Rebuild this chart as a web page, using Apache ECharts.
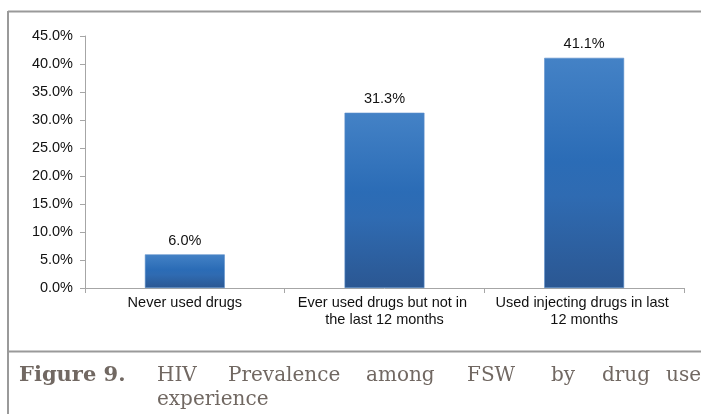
<!DOCTYPE html>
<html>
<head>
<meta charset="utf-8">
<script src="https://cdn.jsdelivr.net/npm/echarts@6/dist/echarts.min.js"></script>
<style>
  html, body { margin: 0; padding: 0; background: #ffffff; }
  #chart { width: 701px; height: 414px; }
</style>
</head>
<body>
<div id="chart"></div>
<script>
// Drug use experience groups and HIV prevalence (%) among FSW
const categories = [
  'Never used drugs',
  'Ever used drugs but not in the last 12 months',
  'Used injecting drugs in last 12 months'
];
const prevalence = [6.0, 31.3, 41.1];

// Value axis range
const yMin = 0;
const yMax = 45;
const yStep = 5;

// Caption under the chart (justified words of the first line, then the rest)
const captionLabel = 'Figure 9.';
const captionLine1 = ['HIV', 'Prevalence', 'among', 'FSW', 'by', 'drug', 'use'];
const captionLine2 = 'experience';

const chart = echarts.init(document.getElementById('chart'), null, { renderer: 'canvas' });

const axisGray = '#a6a6a6';
const frameGray = '#9a9a9a';
const captionColor = '#716862';
const serif = '"DejaVu Serif", "Liberation Serif", serif';
const sans = '"Liberation Sans", Arial, sans-serif';

const barGradient = new echarts.graphic.LinearGradient(0, 0, 0, 1, [
  { offset: 0, color: '#4482c6' },
  { offset: 0.45, color: '#2b6cb6' },
  { offset: 0.6, color: '#2f6bb2' },
  { offset: 1, color: '#2b5792' }
]);

// x positions of the justified caption words
const wordX = [157, 228, 366, 467, 551, 602, 666];

const graphics = [
  // frame around the figure
  { type: 'line', shape: { x1: 8, y1: 11.5, x2: 701, y2: 11.5 }, style: { stroke: frameGray, lineWidth: 2 }, silent: true },
  { type: 'line', shape: { x1: 8, y1: 11, x2: 8, y2: 414 }, style: { stroke: frameGray, lineWidth: 2 }, silent: true },
  { type: 'line', shape: { x1: 8, y1: 351.5, x2: 701, y2: 351.5 }, style: { stroke: frameGray, lineWidth: 2 }, silent: true },
  {
    type: 'text', x: 19, y: 375.5,
    style: { text: captionLabel, font: 'bold 21px ' + serif, fill: captionColor, verticalAlign: 'middle' }
  },
  {
    type: 'text', x: 157, y: 399.5,
    style: { text: captionLine2, font: '20px ' + serif, fill: captionColor, verticalAlign: 'middle' }
  }
];
captionLine1.forEach((w, i) => {
  graphics.push({
    type: 'text', x: wordX[i], y: 375.5,
    style: { text: w, font: '20px ' + serif, fill: captionColor, verticalAlign: 'middle' }
  });
});

chart.setOption({
  backgroundColor: '#ffffff',
  animation: false,
  grid: { left: 85, right: 17, top: 36, bottom: 126, containLabel: false },
  xAxis: {
    type: 'category',
    data: categories,
    axisLine: { show: true, lineStyle: { color: axisGray, width: 1 } },
    axisTick: { show: true, length: 5, lineStyle: { color: axisGray } },
    axisLabel: {
      color: '#111111',
      fontFamily: sans,
      fontSize: 14.5,
      lineHeight: 17,
      margin: 6,
      width: 186,
      overflow: 'break',
      interval: 0
    }
  },
  yAxis: {
    type: 'value',
    min: yMin,
    max: yMax,
    interval: yStep,
    axisLine: { show: true, lineStyle: { color: axisGray, width: 1 } },
    axisTick: { show: true, length: 5, lineStyle: { color: axisGray } },
    splitLine: { show: false },
    axisLabel: {
      color: '#111111',
      fontFamily: sans,
      fontSize: 14.5,
      margin: 12,
      formatter: v => v.toFixed(1) + '%'
    }
  },
  series: [{
    type: 'bar',
    data: prevalence,
    barWidth: '40%',
    itemStyle: { color: barGradient, borderColor: '#5b8dc9', borderWidth: 0.6 },
    label: {
      show: true,
      position: 'top',
      distance: 6,
      color: '#111111',
      fontFamily: sans,
      fontSize: 14.5,
      formatter: p => p.value.toFixed(1) + '%'
    }
  }],
  graphic: graphics
});
</script>
</body>
</html>
